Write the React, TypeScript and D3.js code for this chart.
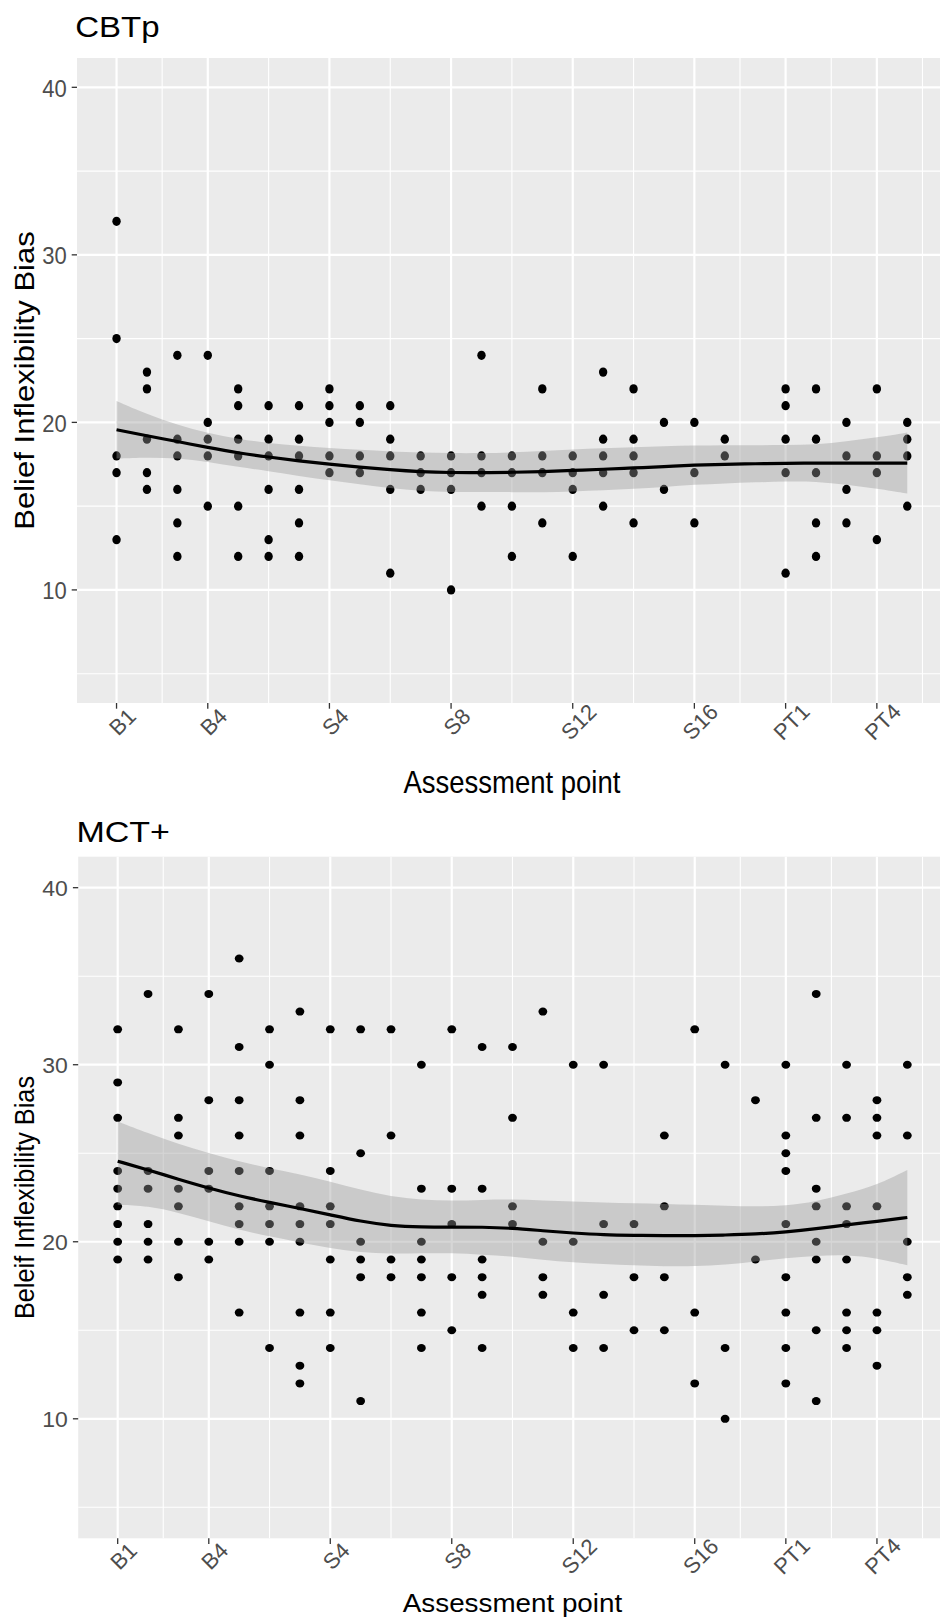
import * as d3 from "d3";
import { useEffect, useRef } from "react";

// Assessment index on the x axis (B1..B4, S1..S16, then follow-ups).
const ASSESSMENT_INDEX = [1, 2, 3, 4, 5, 6, 7, 8, 9, 10, 11, 12, 13, 14, 15, 16, 17, 18, 19, 20, 21, 22, 23, 24, 25, 26, 27];
const X_BREAKS = [1, 4, 8, 12, 16, 20, 23, 26];
const X_LABELS = ["B1", "B4", "S4", "S8", "S12", "S16", "PT1", "PT4"];
const X_MINOR = [2.5, 6, 10, 14, 18, 21.5, 24.5, 27.5];
const Y_BREAKS = [10, 20, 30, 40];
const Y_MINOR = [5, 15, 25, 35];

// Observed scores, one list per assessment index.
const CBTP_SCORES: number[][] = [
  [32, 25, 18, 17, 13],
  [23, 22, 19, 17, 16],
  [24, 19, 18, 16, 14, 12],
  [24, 20, 19, 18, 15],
  [22, 21, 19, 18, 15, 12],
  [21, 19, 18, 16, 13, 12],
  [21, 19, 18, 16, 14, 12],
  [22, 21, 20, 18, 17],
  [21, 20, 18, 17],
  [21, 19, 18, 16, 11],
  [18, 17, 16],
  [18, 17, 16, 10],
  [24, 18, 17, 15],
  [18, 17, 15, 12],
  [22, 18, 17, 14],
  [18, 17, 16, 12],
  [23, 19, 18, 17, 15],
  [22, 19, 18, 17, 14],
  [20, 16],
  [20, 17, 14],
  [19, 18],
  [],
  [22, 21, 19, 17, 11],
  [22, 19, 17, 14, 12],
  [20, 18, 16, 14],
  [22, 18, 17, 13],
  [20, 19, 18, 15],
];

const MCT_SCORES: number[][] = [
  [32, 29, 27, 24, 23, 22, 21, 20, 19],
  [34, 24, 23, 21, 20, 19],
  [32, 27, 26, 23, 22, 20, 18],
  [34, 28, 24, 23, 20, 19],
  [36, 31, 28, 26, 24, 22, 21, 20, 16],
  [32, 30, 24, 22, 21, 20, 14],
  [33, 28, 26, 22, 21, 20, 16, 13, 12],
  [32, 24, 22, 21, 19, 16, 14],
  [32, 25, 20, 19, 18, 11],
  [32, 26, 19, 18],
  [30, 23, 20, 19, 18, 16, 14],
  [32, 23, 21, 18, 15],
  [31, 23, 19, 18, 17, 14],
  [31, 27, 22, 21],
  [33, 20, 18, 17],
  [30, 20, 16, 14],
  [30, 21, 17, 14],
  [21, 18, 15],
  [26, 22, 18, 15],
  [32, 16, 12],
  [30, 14, 10],
  [28, 19],
  [30, 26, 25, 24, 21, 18, 16, 14, 12],
  [34, 27, 23, 22, 20, 19, 15, 11],
  [30, 27, 22, 21, 19, 16, 15, 14],
  [28, 27, 26, 22, 16, 15, 13],
  [30, 26, 20, 18, 17],
];

// Smoother fit and its confidence band, read at each assessment index.
const CBTP_FIT = [19.56, 19.2, 18.86, 18.5, 18.17, 17.93, 17.7, 17.5, 17.33, 17.17, 17.05, 17.0, 17.0, 17.02, 17.06, 17.13, 17.2, 17.28, 17.36, 17.45, 17.5, 17.53, 17.56, 17.57, 17.57, 17.57, 17.57];
const CBTP_UPPER = [21.28, 20.49, 19.85, 19.35, 19.01, 18.76, 18.6, 18.46, 18.36, 18.26, 18.2, 18.16, 18.16, 18.2, 18.3, 18.38, 18.46, 18.52, 18.58, 18.62, 18.64, 18.64, 18.64, 18.66, 18.86, 19.1, 19.39];
const CBTP_LOWER = [17.84, 17.91, 17.87, 17.65, 17.33, 17.1, 16.8, 16.54, 16.3, 16.08, 15.9, 15.84, 15.84, 15.84, 15.82, 15.88, 15.94, 16.04, 16.14, 16.28, 16.36, 16.42, 16.48, 16.48, 16.28, 16.04, 15.75];

const MCT_FIT = [24.55, 24.06, 23.53, 23.03, 22.59, 22.22, 21.88, 21.52, 21.15, 20.9, 20.83, 20.83, 20.83, 20.77, 20.62, 20.49, 20.39, 20.36, 20.34, 20.34, 20.38, 20.43, 20.55, 20.73, 20.96, 21.15, 21.37];
const MCT_UPPER = [26.79, 26.13, 25.53, 25.0, 24.53, 24.15, 23.82, 23.4, 22.93, 22.56, 22.37, 22.31, 22.37, 22.4, 22.33, 22.27, 22.22, 22.18, 22.14, 22.09, 22.03, 21.99, 22.03, 22.27, 22.71, 23.21, 24.06];
const MCT_LOWER = [22.09, 22.03, 21.65, 21.15, 20.68, 20.3, 19.96, 19.64, 19.4, 19.32, 19.36, 19.36, 19.27, 19.17, 18.98, 18.83, 18.74, 18.67, 18.61, 18.61, 18.7, 18.89, 19.08, 19.21, 19.27, 19.08, 18.67];

const WIDTH = 940;
const HEIGHT = 1620;
const FONT = "'Liberation Sans', Arial, Helvetica, sans-serif";
const X_DOMAIN: [number, number] = [-0.3, 28.3];
const Y_DOMAIN: [number, number] = [3.25, 41.75];

interface PanelSpec {
  title: string;
  yTitle: string;
  scores: number[][];
  fit: number[];
  lower: number[];
  upper: number[];
  box: { left: number; right: number; top: number; bottom: number };
  // text is a little stretched/squashed vertically in the source image
  k: number;
  titleK: number;
  titleSize: number;
  titleBaseline: number;
  tickSize: number;
  dot: [number, number];
  xTitleBaseline: number;
  xTitleSize: number;
  xTitleK: number;
  yTitleK: number;
  labelDy: number;
}

const PANELS: PanelSpec[] = [
  {
    title: "CBTp",
    yTitle: "Belief Inflexibility Bias",
    scores: CBTP_SCORES,
    fit: CBTP_FIT,
    lower: CBTP_LOWER,
    upper: CBTP_UPPER,
    box: { left: 77, right: 946.8, top: 58, bottom: 703 },
    k: 1.08,
    titleK: 0.92,
    titleSize: 33,
    titleBaseline: 37,
    tickSize: 22,
    dot: [4.2, 4.6],
    xTitleBaseline: 793.3,
    xTitleSize: 27.5,
    xTitleK: 1.15,
    yTitleK: 1.13,
    labelDy: 19,
  },
  {
    title: "MCT+",
    yTitle: "Beleif Inflexibility Bias",
    scores: MCT_SCORES,
    fit: MCT_FIT,
    lower: MCT_LOWER,
    upper: MCT_UPPER,
    box: { left: 78.2, right: 946.8, top: 856.7, bottom: 1538.3 },
    k: 0.92,
    titleK: 0.87,
    titleSize: 34,
    titleBaseline: 841.7,
    tickSize: 23,
    dot: [4.4, 4.0],
    xTitleBaseline: 1612,
    xTitleSize: 27.8,
    xTitleK: 0.92,
    yTitleK: 0.92,
    labelDy: 18,
  },
];

type G = d3.Selection<SVGGElement, unknown, null, undefined>;

function addText(
  g: G,
  x: number,
  y: number,
  text: string,
  size: number,
  k: number,
  opts: { anchor?: string; rotate?: number; fill?: string; baseline?: string } = {},
) {
  g.append("text")
    .attr("transform", `translate(${x},${y}) scale(1,${k})${opts.rotate ? ` rotate(${opts.rotate})` : ""}`)
    .attr("text-anchor", opts.anchor ?? "start")
    .attr("dominant-baseline", opts.baseline ?? "auto")
    .attr("font-family", FONT)
    .attr("font-size", size)
    .attr("fill", opts.fill ?? "#000")
    .text(text);
}

function drawPanel(root: G, p: PanelSpec) {
  const { left, right, top, bottom } = p.box;
  const x = d3.scaleLinear().domain(X_DOMAIN).range([left, right]);
  const y = d3.scaleLinear().domain(Y_DOMAIN).range([bottom, top]);
  const g = root.append("g");

  g.append("rect")
    .attr("x", left)
    .attr("y", top)
    .attr("width", right - left)
    .attr("height", bottom - top)
    .attr("fill", "#EBEBEB");

  // minor then major grid
  const grid = g.append("g").attr("stroke", "#FFFFFF");
  grid.selectAll("line.ymin").data(Y_MINOR).join("line")
    .attr("x1", left).attr("x2", right)
    .attr("y1", (d) => y(d)).attr("y2", (d) => y(d))
    .attr("stroke-width", 1.1);
  grid.selectAll("line.xmin").data(X_MINOR).join("line")
    .attr("y1", top).attr("y2", bottom)
    .attr("x1", (d) => x(d)).attr("x2", (d) => x(d))
    .attr("stroke-width", 1.1);
  grid.selectAll("line.ymaj").data(Y_BREAKS).join("line")
    .attr("x1", left).attr("x2", right)
    .attr("y1", (d) => y(d)).attr("y2", (d) => y(d))
    .attr("stroke-width", 2.2);
  grid.selectAll("line.xmaj").data(X_BREAKS).join("line")
    .attr("y1", top).attr("y2", bottom)
    .attr("x1", (d) => x(d)).attr("x2", (d) => x(d))
    .attr("stroke-width", 2.2);

  const points = p.scores.flatMap((vals, i) => vals.map((v) => ({ idx: ASSESSMENT_INDEX[i], v })));
  g.append("g")
    .selectAll("ellipse")
    .data(points)
    .join("ellipse")
    .attr("cx", (d) => x(d.idx))
    .attr("cy", (d) => y(d.v))
    .attr("rx", p.dot[0])
    .attr("ry", p.dot[1])
    .attr("fill", "#000");

  const band = ASSESSMENT_INDEX.map((idx, i) => ({ idx, fit: p.fit[i], lo: p.lower[i], hi: p.upper[i] }));
  const area = d3
    .area<(typeof band)[number]>()
    .x((d) => x(d.idx))
    .y0((d) => y(d.lo))
    .y1((d) => y(d.hi))
    .curve(d3.curveBasis);
  g.append("path").attr("d", area(band) ?? "").attr("fill", "#999999").attr("fill-opacity", 0.4);

  const line = d3
    .line<(typeof band)[number]>()
    .x((d) => x(d.idx))
    .y((d) => y(d.fit))
    .curve(d3.curveBasis);
  g.append("path")
    .attr("d", line(band) ?? "")
    .attr("fill", "none")
    .attr("stroke", "#000")
    .attr("stroke-width", 3.2);

  // ticks
  const ticks = g.append("g").attr("stroke", "#333333").attr("stroke-width", 1.3);
  ticks.selectAll("line.yt").data(Y_BREAKS).join("line")
    .attr("x1", left - 5.3).attr("x2", left)
    .attr("y1", (d) => y(d)).attr("y2", (d) => y(d));
  ticks.selectAll("line.xt").data(X_BREAKS).join("line")
    .attr("x1", (d) => x(d)).attr("x2", (d) => x(d))
    .attr("y1", bottom).attr("y2", bottom + 5.7);

  const cap = 0.716 * p.tickSize * p.k;
  Y_BREAKS.forEach((b) => {
    addText(g, left - 10.3, y(b) + cap / 2 + 1, String(b), p.tickSize, p.k, { anchor: "end", fill: "#4D4D4D" });
  });
  X_BREAKS.forEach((b, i) => {
    addText(g, x(b) + 6, bottom + p.labelDy, X_LABELS[i], 22, 1, {
      anchor: "middle",
      baseline: "central",
      rotate: -45,
      fill: "#4D4D4D",
    });
  });

  addText(g, left - 1.8, p.titleBaseline, p.title, p.titleSize, p.titleK);
  addText(g, (left + right) / 2, p.xTitleBaseline, "Assessment point", p.xTitleSize, p.xTitleK, {
    anchor: "middle",
  });
  addText(g, 33.5, (top + bottom) / 2, p.yTitle, 27.5, p.yTitleK, { anchor: "middle", rotate: -90 });
}

export default function App() {
  const svgRef = useRef<SVGSVGElement>(null);

  useEffect(() => {
    const svg = d3.select(svgRef.current);
    svg.selectAll("*").remove();
    svg.append("rect").attr("width", WIDTH).attr("height", HEIGHT).attr("fill", "#FFFFFF");
    const root = svg.append("g") as unknown as G;
    PANELS.forEach((p) => drawPanel(root, p));
  }, []);

  return (
    <svg
      ref={svgRef}
      width={WIDTH}
      height={HEIGHT}
      viewBox={`0 0 ${WIDTH} ${HEIGHT}`}
      style={{ position: "absolute", left: 0, top: 0, display: "block" }}
    />
  );
}
